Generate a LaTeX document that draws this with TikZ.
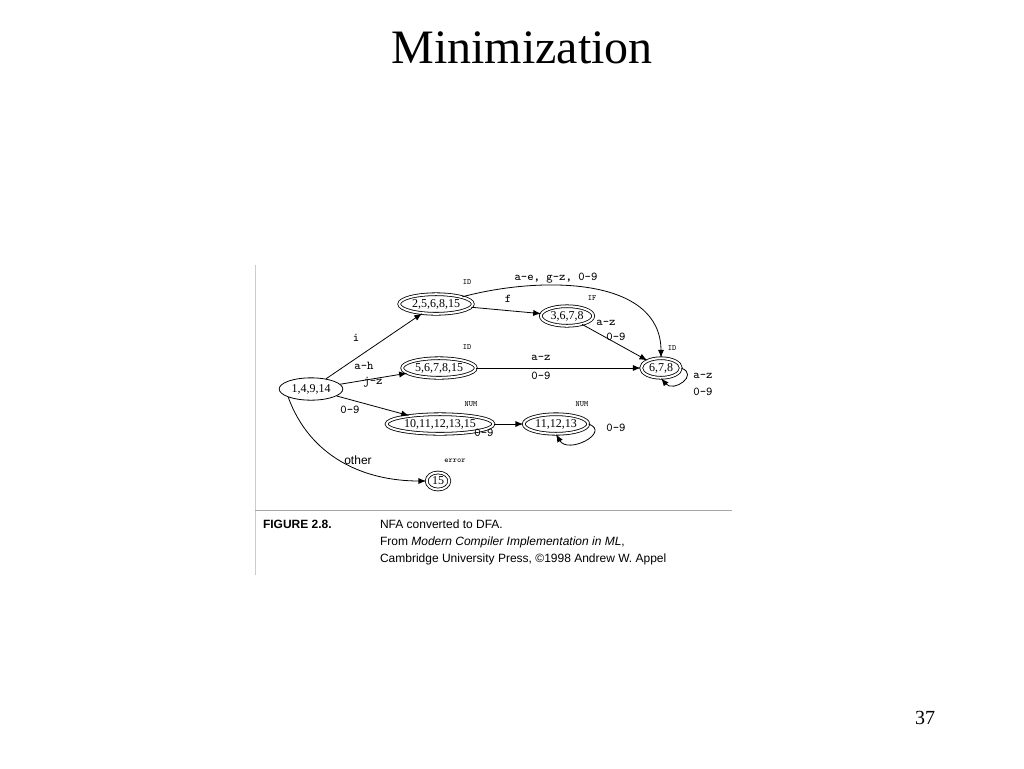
\documentclass[tikz,border=0pt]{standalone}
\usepackage{fontspec}
\setmainfont{Liberation Serif}
\newfontfamily\capfont{Liberation Sans}
\usetikzlibrary{shapes.geometric,arrows}
\begin{document}
\begin{tikzpicture}[x=0.5pt,y=-0.5pt,
  state/.style={ellipse,draw,double,double distance=1pt,inner sep=1pt,font=\fontsize{6}{7}\selectfont},
  start/.style={ellipse,draw,inner sep=1.5pt,font=\fontsize{6}{7}\selectfont},
  tag/.style={font=\ttfamily\fontsize{4}{5}\selectfont},
  lab/.style={font=\ttfamily\fontsize{6}{7}\selectfont},
  edge/.style={->,>=latex,thin}]
\useasboundingbox (0,0) rectangle (1024,768);
\node at (522,48) {\fontsize{24}{28}\selectfont Minimization};
\node at (925,718) {\fontsize{10}{12}\selectfont 37};
% frame of the figure
\draw[gray!40] (255,265) -- (255,575);
\draw[gray!70] (255,510) -- (732,510);
% states
\node[start] (s1) at (311,389) {1,4,9,14};
\node[state] (s2) at (436,304) {2,5,6,8,15};
\node[state] (s3) at (567,316) {3,6,7,8};
\node[state] (s5) at (439,368) {5,6,7,8,15};
\node[state] (s6) at (661,368) {6,7,8};
\node[state] (s10) at (440,424) {10,11,12,13,15};
\node[state] (s11) at (556,424) {11,12,13};
\node[state] (s15) at (438,481) {15};
% tags
\node[tag] at (467,282) {ID};
\node[tag] at (592,298) {IF};
\node[tag] at (467,347) {ID};
\node[tag] at (672,348) {ID};
\node[tag] at (471,404) {NUM};
\node[tag] at (582,404) {NUM};
\node[tag] at (455,461) {error};
% transitions
\draw[edge] (s1) -- (s2);
\draw[edge] (s1) -- (s5);
\draw[edge] (s1) -- (s10);
\draw[edge] (s1.south west) to[out=-70,in=180] (s15);
\draw[edge] (s2) -- (s3);
\draw[edge] (s2.north east) to[out=15,in=90] (s6.north);
\draw[edge] (s3) -- (s6);
\draw[edge] (s5) -- (s6);
\draw[edge] (s10) -- (s11);
\draw[edge] (s6.east) to[out=-20,in=-50,looseness=2.2] (s6.south);
\draw[edge] (s11.east) to[out=-20,in=-60,looseness=1.8] (s11.south);
% labels
\node[lab] at (556,278) {a-e, g-z, 0-9};
\node[lab] at (508,299) {f};
\node[lab] at (356,338) {i};
\node[lab] at (364,366) {a-h};
\node[lab] at (373,382) {j-z};
\node[lab] at (350,410) {0-9};
\node at (358,460) {\capfont\fontsize{6}{7}\selectfont other};
\node[lab] at (606,323) {a-z};
\node[lab] at (616,337) {0-9};
\node[lab] at (541,358) {a-z};
\node[lab] at (541,376) {0-9};
\node[lab] at (703,376) {a-z};
\node[lab] at (703,392) {0-9};
\node[lab] at (484,433) {0-9};
\node[lab] at (616,428) {0-9};
% caption
\node[anchor=west,font=\capfont\bfseries\fontsize{6}{7}\selectfont] at (256,524) {FIGURE 2.8.};
\node[anchor=west,font=\capfont\fontsize{6}{7}\selectfont] at (373,524) {NFA converted to DFA.};
\node[anchor=west,font=\capfont\fontsize{6}{7}\selectfont] at (373,542) {From \textit{Modern Compiler Implementation in ML},};
\node[anchor=west,font=\capfont\fontsize{6}{7}\selectfont] at (373,559) {Cambridge University Press, \textcopyright1998 Andrew W. Appel};
\end{tikzpicture}
\end{document}
